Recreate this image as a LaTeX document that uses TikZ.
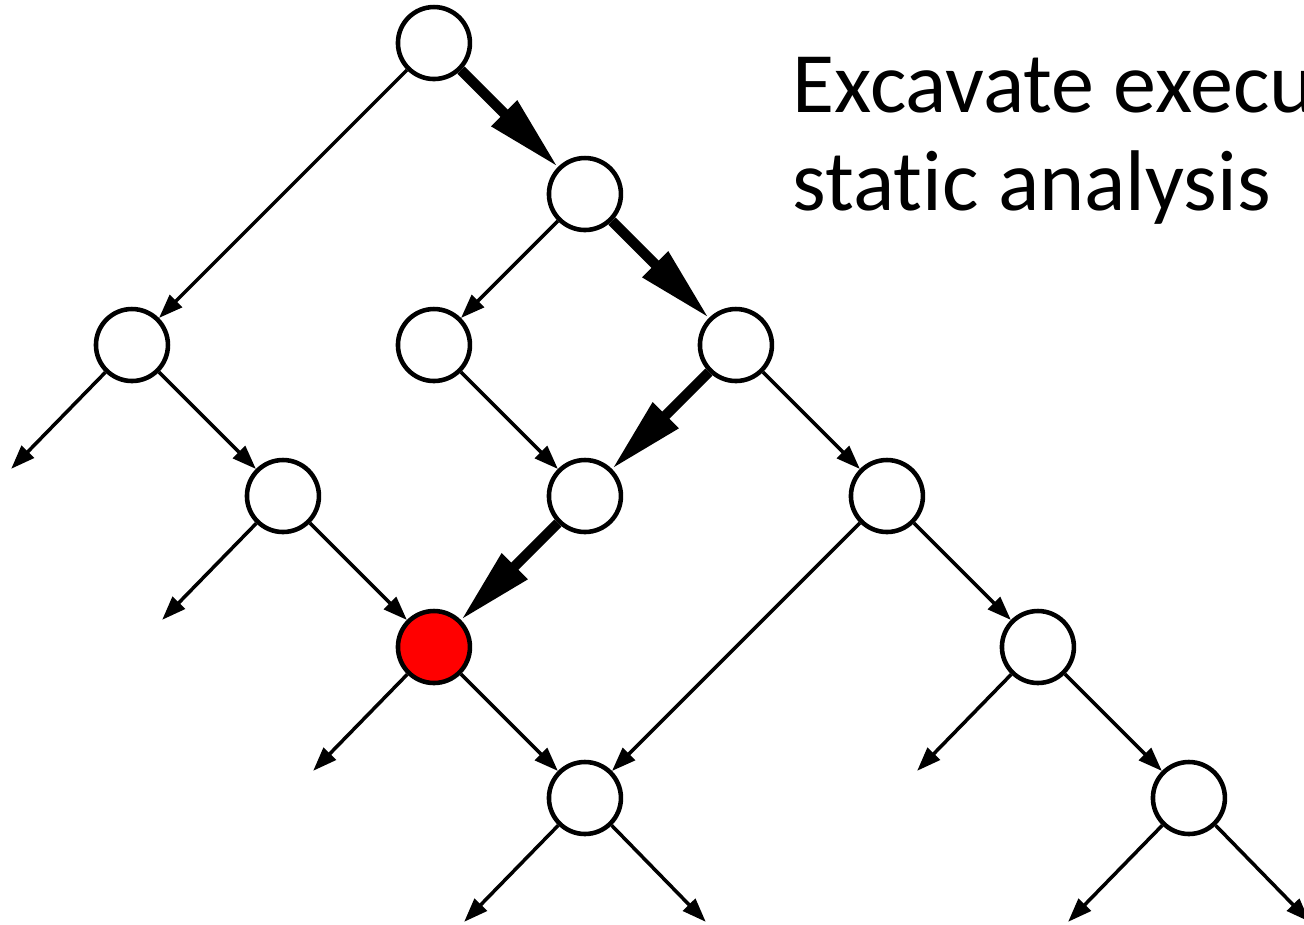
\documentclass[tikz,border=0pt]{standalone}
\usepackage{fontspec}
\setmainfont{Carlito}[Ligatures=NoCommon]
\usetikzlibrary{arrows.meta}
\begin{document}
\begin{tikzpicture}[x=1.51cm,y=-1.51cm,
  state/.style={draw, circle, line width=1.3pt, minimum size=0.72cm, inner sep=0pt, fill=white},
  hit/.style={state, fill=red},
  edge/.style={line width=1pt, -{Triangle[length=0.24cm,width=0.17cm]}},
  path/.style={line width=2.9pt, -{Triangle[length=0.76cm,width=0.34cm]}},
  note/.style={anchor=base west, inner sep=0pt, font=\fontsize{24.5}{29}\selectfont}]
% Frame
\path[use as bounding box, clip] (-0.874,-0.285) rectangle (7.762,5.841);

% Nodes
\node[state] (root) at (2,0) {};
\node[state] (n1) at (3,1) {};
\node[state] (a) at (0,2) {};
\node[state] (b) at (2,2) {};
\node[state] (c) at (4,2) {};
\node[state] (d) at (1,3) {};
\node[state] (e) at (3,3) {};
\node[state] (f) at (5,3) {};
\node[hit] (bug) at (2,4) {};
\node[state] (g) at (6,4) {};
\node[state] (h) at (3,5) {};
\node[state] (i) at (7,5) {};

% Loose ends
\coordinate (a0) at (-0.8,2.82);
\coordinate (d0) at (0.2,3.82);
\coordinate (bug0) at (1.2,4.82);
\coordinate (g0) at (5.2,4.82);
\coordinate (h0) at (2.2,5.82);
\coordinate (h1) at (3.8,5.82);
\coordinate (i0) at (6.2,5.82);
\coordinate (i1) at (7.8,5.82);

% Edges
\draw[edge] (root) -- (a);
\draw[edge] (a) -- (a0);
\draw[edge] (a) -- (d);
\draw[edge] (n1) -- (b);
\draw[edge] (b) -- (e);
\draw[edge] (c) -- (f);
\draw[edge] (d) -- (d0);
\draw[edge] (d) -- (bug);
\draw[edge] (f) -- (h);
\draw[edge] (f) -- (g);
\draw[edge] (bug) -- (bug0);
\draw[edge] (bug) -- (h);
\draw[edge] (g) -- (g0);
\draw[edge] (g) -- (i);
\draw[edge] (h) -- (h0);
\draw[edge] (h) -- (h1);
\draw[edge] (i) -- (i0);
\draw[edge] (i) -- (i1);

% Excavated path
\draw[path] (root) -- (n1);
\draw[path] (n1) -- (c);
\draw[path] (c) -- (e);
\draw[path] (e) -- (bug);

% Label
\node[note] (line1) at (4.371,0.457) {Excavate execu};
\node[note] (line2) at (4.371,1.106) {static analysis};
\end{tikzpicture}
\end{document}
